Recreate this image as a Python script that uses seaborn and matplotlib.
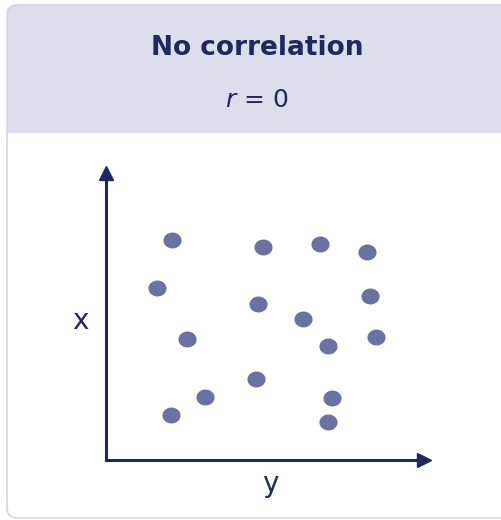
import numpy as np
import pandas as pd
import seaborn as sns
import matplotlib.pyplot as plt
from matplotlib.patches import FancyBboxPatch, Rectangle
from matplotlib.path import Path

# scatter points (arbitrary units, 0-10 on both axes)
x_vals = [2.07, 4.95, 6.75, 8.22, 1.60, 4.79, 8.33, 6.21,
          2.55, 6.98, 8.51, 4.73, 3.11, 2.04, 7.13, 6.98]
y_vals = [7.69, 7.42, 7.53, 7.25, 5.99, 5.45, 5.71, 4.92,
          4.24, 3.98, 4.30, 2.83, 2.21, 1.57, 2.18, 1.31]
title = "No correlation"
subtitle = "$r$ = 0"
xlabel = "y"
ylabel = "x"

navy = "#1e2a5e"
dot = "#6a72a2"
header = "#dcdfeb"
border = "#d3d6e1"

sns.set_style("white")
plt.rcParams["font.family"] = ["DejaVu Sans"]
plt.rcParams["mathtext.fontset"] = "custom"
plt.rcParams["mathtext.rm"] = "DejaVu Sans"
plt.rcParams["mathtext.it"] = "DejaVu Sans:italic"

W, H = 501, 520
fig = plt.figure(figsize=(W / 100, H / 100), dpi=100)
fig.patch.set_facecolor("white")


def fx(px):
    return px / W


def fy(py):
    return 1 - py / H


# card: header band + white body + outline
rad = 0.02
fig.patches.append(FancyBboxPatch((fx(7), fy(160)), fx(520) - fx(7), fy(5) - fy(160),
                                  boxstyle=f"round,pad=0,rounding_size={rad}",
                                  transform=fig.transFigure, facecolor=header,
                                  edgecolor="none", zorder=-3))
fig.patches.append(FancyBboxPatch((fx(7), fy(518)), fx(520) - fx(7), fy(150) - fy(518),
                                  boxstyle=f"round,pad=0,rounding_size={rad}",
                                  transform=fig.transFigure, facecolor="white",
                                  edgecolor="none", zorder=-3))
fig.patches.append(Rectangle((fx(7), fy(170)), fx(520) - fx(7), fy(133) - fy(170),
                             transform=fig.transFigure, facecolor="white",
                             edgecolor="none", zorder=-3))
fig.patches.append(FancyBboxPatch((fx(7), fy(518)), fx(520) - fx(7), fy(5) - fy(518),
                                  boxstyle=f"round,pad=0,rounding_size={rad}",
                                  transform=fig.transFigure, facecolor="none",
                                  edgecolor=border, linewidth=1.2, zorder=-2))

fig.text(fx(257), fy(48), title, ha="center", va="center", fontsize=19,
         fontweight="bold", color=navy)
fig.text(fx(257), fy(100), subtitle, ha="center", va="center", fontsize=18,
         color=navy)

ax = fig.add_axes([fx(106), fy(460), fx(423.5) - fx(106), fy(173.5) - fy(460)])
ax.set_zorder(5)
ax.set_facecolor("none")

df = pd.DataFrame({"x": x_vals, "y": y_vals})
t = np.linspace(0, 2 * np.pi, 60)
ellipse = Path(np.column_stack([np.cos(t), 0.88 * np.sin(t)]))
sns.scatterplot(data=df, x="x", y="y", ax=ax, color=dot, marker=ellipse,
                s=170, linewidth=0, legend=False)

ax.set_xlim(0, 10)
ax.set_ylim(0, 10)
ax.set_xticks([])
ax.set_yticks([])
ax.set_xlabel("")
ax.set_ylabel("")
for side in ["top", "right"]:
    ax.spines[side].set_visible(False)
for side in ["left", "bottom"]:
    ax.spines[side].set_color(navy)
    ax.spines[side].set_linewidth(2.2)
ax.plot(1, 0, ">", color=navy, markersize=10, transform=ax.transAxes, clip_on=False)
ax.plot(0, 1, "^", color=navy, markersize=10, transform=ax.transAxes, clip_on=False)

fig.text(fx(80), fy(321), ylabel, ha="center", va="center", fontsize=20, color=navy)
fig.text(fx(270), fy(484), xlabel, ha="center", va="center", fontsize=20, color=navy)

fig.savefig("out.png", dpi=100)
